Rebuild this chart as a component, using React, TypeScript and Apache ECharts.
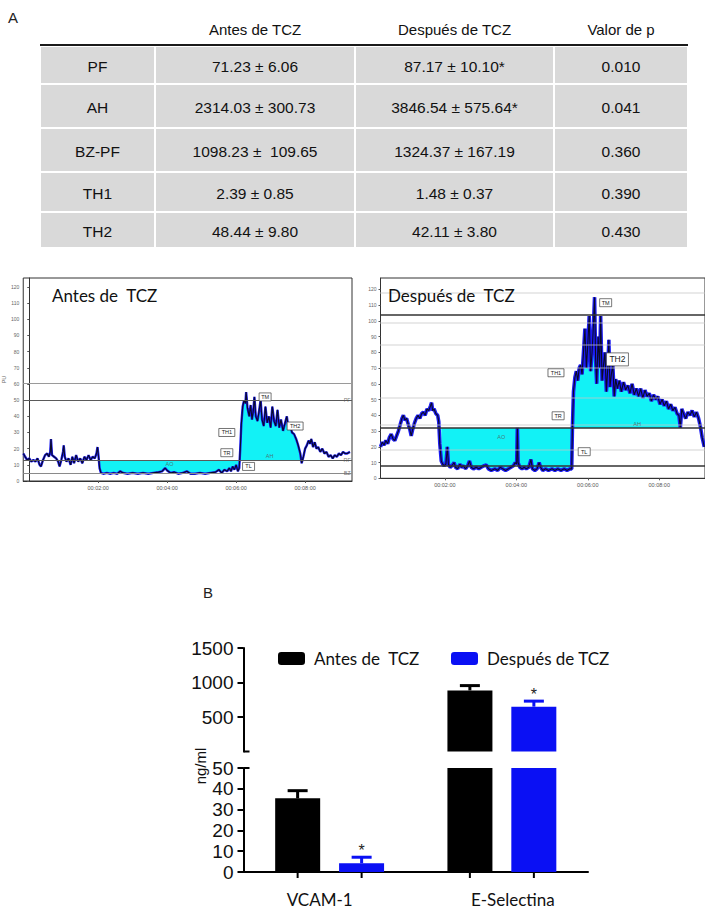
import React, { useEffect, useRef } from 'react';
import * as echarts from 'echarts';

// ---------------- A: table ----------------
const tableHeaders = ['Antes de TCZ', 'Después de TCZ', 'Valor de p'];
const tableParams = ['PF', 'AH', 'BZ-PF', 'TH1', 'TH2'];
const tableAntes = ['71.23 ± 6.06', '2314.03 ± 300.73', '1098.23 ±  109.65', '2.39 ± 0.85', '48.44 ± 9.80'];
const tableDespues = ['87.17 ± 10.10*', '3846.54 ± 575.64*', '1324.37 ± 167.19', '1.48 ± 0.37', '42.11 ± 3.80'];
const tablePValues = ['0.010', '0.041', '0.360', '0.390', '0.430'];

// ---------------- Laser Doppler traces: [minutes, PU] ----------------
const antesTrace: number[][] = [
  [-0.17, 17], [-0.12, 15], [-0.06, 13], [0, 14], [0.06, 12], [0.12, 13], [0.18, 12], [0.24, 14], [0.3, 10], [0.34, 9],
  [0.4, 13], [0.46, 16], [0.52, 17], [0.57, 15], [0.61, 18], [0.63, 26], [0.66, 16], [0.72, 15], [0.78, 14], [0.84, 12],
  [0.88, 9], [0.93, 13], [0.98, 18], [1.0, 22], [1.03, 15], [1.08, 12], [1.14, 14], [1.2, 10], [1.25, 15], [1.3, 11],
  [1.36, 16], [1.42, 12], [1.48, 14], [1.54, 11], [1.6, 15], [1.66, 13], [1.72, 16], [1.78, 13], [1.84, 15], [1.9, 14],
  [1.95, 17], [1.98, 21], [2.01, 15], [2.04, 8], [2.08, 5], [2.15, 4.5], [2.25, 5], [2.35, 4.5], [2.45, 5], [2.55, 4.5],
  [2.64, 6], [2.72, 5], [2.85, 4.5], [3.0, 5], [3.15, 4.5], [3.3, 5], [3.45, 4.5], [3.6, 5], [3.75, 5.5], [3.85, 6],
  [3.94, 8], [4.0, 6.5], [4.1, 5], [4.2, 5.5], [4.32, 4.5], [4.45, 5], [4.57, 6], [4.68, 4.5], [4.8, 4.5], [4.95, 5],
  [5.1, 4.5], [5.25, 5], [5.4, 5.5], [5.5, 7], [5.58, 5], [5.66, 7], [5.74, 6], [5.8, 8], [5.85, 6], [5.9, 9],
  [5.95, 7], [6.0, 10], [6.05, 6], [6.09, 8], [6.12, 20], [6.15, 35], [6.19, 46], [6.23, 50], [6.27, 48], [6.29, 55],
  [6.33, 45], [6.38, 40], [6.42, 47], [6.46, 38], [6.5, 44], [6.53, 52], [6.57, 40], [6.62, 37], [6.67, 44], [6.71, 50],
  [6.75, 38], [6.8, 34], [6.85, 46], [6.9, 36], [6.95, 40], [7.0, 33], [7.05, 46], [7.1, 37], [7.15, 34], [7.2, 44],
  [7.25, 33], [7.3, 38], [7.36, 31], [7.42, 36], [7.47, 40], [7.52, 32], [7.57, 34], [7.62, 30], [7.68, 29], [7.74, 26],
  [7.8, 22], [7.86, 17], [7.9, 11], [7.95, 15], [8.0, 20], [8.05, 22], [8.1, 25], [8.14, 23], [8.18, 26], [8.23, 21],
  [8.28, 24], [8.33, 20], [8.38, 21], [8.44, 18], [8.5, 20], [8.56, 17], [8.62, 18], [8.68, 15], [8.74, 16], [8.8, 14],
  [8.86, 16], [8.92, 15], [8.98, 17], [9.04, 16], [9.1, 18], [9.16, 17], [9.22, 17], [9.3, 18]
];
const despuesTrace: number[][] = [
  [0.2, 20], [0.25, 23], [0.3, 21], [0.35, 24], [0.4, 22], [0.45, 26], [0.5, 28], [0.55, 25], [0.6, 24], [0.65, 27],
  [0.7, 30], [0.75, 34], [0.8, 38], [0.84, 40], [0.88, 37], [0.93, 38], [0.98, 34], [1.02, 31], [1.06, 27], [1.1, 31],
  [1.15, 35], [1.2, 38], [1.25, 40], [1.3, 38], [1.35, 41], [1.4, 42], [1.45, 40], [1.5, 44], [1.55, 43], [1.6, 46],
  [1.63, 48], [1.66, 43], [1.7, 44], [1.75, 41], [1.8, 40], [1.83, 36], [1.86, 22], [1.9, 11], [1.94, 9], [1.98, 8],
  [2.03, 9], [2.07, 20], [2.1, 9], [2.15, 7], [2.2, 8], [2.26, 10], [2.3, 7], [2.36, 6], [2.42, 9], [2.47, 7],
  [2.52, 8], [2.58, 6], [2.64, 8], [2.69, 11], [2.74, 7], [2.8, 6], [2.88, 7], [2.95, 6], [3.02, 7], [3.1, 8],
  [3.16, 8.5], [3.22, 6], [3.3, 5], [3.4, 6], [3.48, 5], [3.55, 7], [3.62, 6], [3.7, 5], [3.78, 6], [3.85, 7],
  [3.92, 8], [3.97, 10], [4.01, 9], [4.03, 32], [4.05, 10], [4.1, 7], [4.16, 6], [4.22, 7], [4.28, 6], [4.35, 7],
  [4.41, 12], [4.45, 6], [4.52, 5], [4.58, 6], [4.64, 10], [4.68, 7], [4.74, 5], [4.82, 6], [4.9, 5], [5.0, 6],
  [5.08, 5], [5.16, 6], [5.25, 5], [5.34, 6], [5.42, 5], [5.5, 6], [5.55, 6], [5.57, 32], [5.6, 55], [5.64, 64],
  [5.68, 68], [5.72, 62], [5.76, 70], [5.8, 72], [5.84, 66], [5.88, 80], [5.92, 95], [5.96, 70], [6.0, 85], [6.04, 103],
  [6.08, 68], [6.12, 80], [6.16, 98], [6.19, 115], [6.22, 75], [6.25, 60], [6.29, 90], [6.33, 70], [6.36, 103], [6.4, 62],
  [6.44, 72], [6.48, 80], [6.52, 55], [6.56, 70], [6.59, 88], [6.62, 58], [6.66, 66], [6.7, 72], [6.74, 52], [6.78, 63],
  [6.83, 57], [6.88, 62], [6.94, 55], [7.0, 61], [7.06, 56], [7.12, 59], [7.18, 54], [7.24, 60], [7.3, 53], [7.36, 57],
  [7.42, 52], [7.48, 57], [7.54, 51], [7.6, 56], [7.66, 52], [7.72, 54], [7.78, 49], [7.84, 53], [7.9, 50], [7.96, 52],
  [8.02, 47], [8.08, 50], [8.14, 46], [8.2, 49], [8.26, 44], [8.32, 47], [8.38, 43], [8.44, 45], [8.5, 41], [8.55, 40],
  [8.59, 32], [8.63, 44], [8.68, 41], [8.74, 38], [8.8, 42], [8.86, 40], [8.92, 43], [8.98, 39], [9.04, 42], [9.1, 38],
  [9.15, 33], [9.2, 26], [9.26, 20]
];
const antesBaseline = 13;
const despuesBaseline = 32;
const antesFillRange = [2.04, 7.9];
const despuesFillRange = [1.9, 8.59];
const antesRefLines = [60.5, 50, 13, 5];
const despuesRefLines = [104, 32, 8];
const despuesDottedGrid = [118, 99, 85, 70, 51, 34, 18];
const timeTicks = [2, 4, 6, 8];
const puTicks = [0, 10, 20, 30, 40, 50, 60, 70, 80, 90, 100, 110, 120];
const antesTags = [
  { name: 'TM', t: 6.84, v: 52 }, { name: 'TH1', t: 5.73, v: 30 }, { name: 'TR', t: 5.73, v: 17.5 },
  { name: 'TL', t: 6.36, v: 9 }, { name: 'TH2', t: 7.71, v: 34 }
];
const antesMarks = [
  { name: 'AO', t: 4.07, v: 10.5 }, { name: 'AH', t: 6.97, v: 15.5 },
  { name: 'PF', t: 9.22, v: 50 }, { name: 'RF', t: 9.22, v: 13 }, { name: 'BZ', t: 9.22, v: 5 }
];
const despuesTags = [
  { name: 'TM', t: 6.5, v: 111.5 }, { name: 'TH1', t: 5.11, v: 67 }, { name: 'TR', t: 5.17, v: 39.7 },
  { name: 'TL', t: 5.9, v: 16.9 }
];
const despuesBigTags = [{ name: 'TH2', t: 6.83, v: 75.5 }];
const despuesMarks = [{ name: 'AO', t: 3.58, v: 26.4 }, { name: 'AH', t: 7.38, v: 34.5 }];

// ---------------- B: bars (ng/ml) ----------------
const barCategories = ['VCAM-1', 'E-Selectina'];
const antesMean = [35.4, 885];
const antesSem = [3.7, 70];
const despuesMean = [4.2, 650];
const despuesSem = [2.9, 80];
const despuesSignificant = [1, 1];
const axisBreak = 50;
const seriesNames = ['Antes de  TCZ', 'Después de TCZ'];

// ---------------- layout / style ----------------
const BLUE = '#0a10f4';
const CYAN = '#12f2f6';
const SANS = 'Liberation Sans';
const CAL = 'Lato';
const colX = [40, 155, 355, 554, 688];
const rowY = [46, 84, 128, 172, 212, 248];
const HEADER_Y = 29;
const BAR_LEFT = 243.5;
const BAR_W = 344.5;
const UP_TOP = 648, UP_H = 103.5;
const LO_TOP = 768, LO_H = 104;
const BAR_OFFSET = 32;

function buildTable() {
  const els: any[] = [];
  tableHeaders.forEach((h, i) => {
    els.push({ type: 'text', x: (colX[i + 1] + colX[i + 2]) / 2, y: HEADER_Y,
      style: { text: h, fill: '#111', fontSize: 15, fontFamily: SANS, align: 'center', verticalAlign: 'middle' } });
  });
  const cols = [tableParams, tableAntes, tableDespues, tablePValues];
  for (let r = 0; r < tableParams.length; r++) {
    for (let c = 0; c < 4; c++) {
      els.push({ type: 'rect', shape: { x: colX[c] + 1, y: rowY[r] + 1, width: colX[c + 1] - colX[c] - 2, height: rowY[r + 1] - rowY[r] - 2 },
        style: { fill: '#d9d9d9' } });
      els.push({ type: 'text', x: (colX[c] + colX[c + 1]) / 2, y: (rowY[r] + rowY[r + 1]) / 2 + 1,
        style: { text: cols[c][r], fill: '#111', fontSize: 15.5, fontFamily: SANS, align: 'center', verticalAlign: 'middle' } });
    }
  }
  els.push({ type: 'rect', shape: { x: colX[0], y: rowY[0] - 2, width: colX[4] - colX[0], height: 2 }, style: { fill: '#1a1a1a' } });
  return els;
}

function traceAxes(gridIndex: number, min: number, max: number, ymax: number, showName: boolean) {
  const x = {
    type: 'value', gridIndex, min, max,
    axisLine: { show: true, onZero: false, lineStyle: { color: '#333', width: 1 } },
    axisTick: { show: true, customValues: timeTicks, length: 2, lineStyle: { color: '#555' } },
    axisLabel: { customValues: timeTicks, fontSize: 5.5, color: '#555', margin: 4, fontFamily: SANS,
      formatter: (v: number) => '00:0' + v + ':00' },
    splitLine: { show: false }
  };
  const y = {
    type: 'value', gridIndex, min: 0, max: ymax,
    name: showName ? 'PU' : '', nameLocation: 'middle', nameGap: 13, nameRotate: 90,
    nameTextStyle: { fontSize: 5.5, color: '#666', fontFamily: SANS },
    axisLine: { show: true, lineStyle: { color: '#333', width: 1 } },
    axisTick: { show: true, customValues: puTicks, length: 2, lineStyle: { color: '#555' } },
    axisLabel: { customValues: puTicks, fontSize: 5, color: '#666', margin: 4, fontFamily: SANS },
    splitLine: { show: false }
  };
  return { x, y };
}

function traceSeries(idx: number, trace: number[][], baseline: number, range: number[], refLines: any[], blueW: number) {
  return [
    {
      type: 'line', xAxisIndex: idx, yAxisIndex: idx, z: 2, silent: true, symbol: 'none',
      data: trace.filter((p) => p[0] >= range[0] && p[0] <= range[1]),
      lineStyle: { width: 0 },
      areaStyle: { color: CYAN, opacity: 1, origin: baseline },
      markLine: { silent: true, symbol: ['none', 'none'], label: { show: false }, data: refLines }
    },
    { type: 'line', xAxisIndex: idx, yAxisIndex: idx, z: 3, silent: true, symbol: 'none', data: trace,
      lineStyle: { color: '#1c1cf2', width: blueW } },
    { type: 'line', xAxisIndex: idx, yAxisIndex: idx, z: 4, silent: true, symbol: 'none', data: trace,
      lineStyle: { color: '#0a0a28', width: 1.1 } }
  ];
}

function tagSeries(idx: number, tags: any[], fontSize: number, boxH: number, perChar: number) {
  return {
    type: 'scatter', xAxisIndex: idx, yAxisIndex: idx, z: 6, silent: true, symbol: 'rect',
    data: tags.map((t) => ({ name: t.name, value: [t.t, t.v], symbolSize: [t.name.length * perChar + 4, boxH] })),
    itemStyle: { color: '#fff', borderColor: '#444', borderWidth: 0.7, opacity: 1 },
    label: { show: true, position: 'inside', formatter: '{b}', fontSize, color: '#222', fontFamily: SANS }
  };
}

function markSeries(idx: number, marks: any[]) {
  return {
    type: 'scatter', xAxisIndex: idx, yAxisIndex: idx, z: 6, silent: true, symbolSize: 0,
    data: marks.map((t) => ({ name: t.name, value: [t.t, t.v] })),
    label: { show: true, position: 'inside', formatter: '{b}', fontSize: 5.5, color: '#555', fontFamily: SANS }
  };
}

function errorRenderer(isUpper: boolean) {
  return (params: any, api: any) => {
    const i = api.value(0);
    const m = api.value(1);
    const e = api.value(2);
    const side = api.value(3);
    const star = api.value(4);
    const color = side < 0 ? '#000' : BLUE;
    const children: any[] = [];
    const c0 = api.coord([i, 0]);
    const x = c0[0] + side * BAR_OFFSET;
    if (!isUpper) {
      children.push({ type: 'line', shape: { x1: x, y1: c0[1], x2: x, y2: c0[1] + 6 }, style: { stroke: '#000', lineWidth: 2 } });
    }
    const inRange = isUpper ? m >= axisBreak : m + e <= axisBreak;
    if (inRange) {
      const pb = api.coord([i, m]);
      const pt = api.coord([i, m + e]);
      children.push({ type: 'line', shape: { x1: x, y1: pb[1], x2: x, y2: pt[1] }, style: { stroke: color, lineWidth: 3 } });
      children.push({ type: 'line', shape: { x1: x - 10, y1: pt[1], x2: x + 10, y2: pt[1] }, style: { stroke: color, lineWidth: 3 } });
      if (star) {
        children.push({ type: 'text', x, y: pt[1] - 7,
          style: { text: '*', fill: '#222', fontSize: 16, fontFamily: SANS, align: 'center', verticalAlign: 'middle' } });
      }
    }
    return { type: 'group', children };
  };
}

function buildOption() {
  const left = traceAxes(0, -0.174, 9.36, 203 / 1.617, true);
  const right = traceAxes(1, 0.2, 9.28, 200.3 / 1.575, false);
  const antesRefStyle = [
    { color: '#9a9a9a', width: 1 }, { color: '#5a5a5a', width: 1 }, { color: '#5a5a5a', width: 1 }, { color: '#8a8a8a', width: 1 }
  ];
  const antesRef = antesRefLines.map((v, i) => ({ yAxis: v, lineStyle: { ...antesRefStyle[i], type: 'solid' } }));
  const despuesRef = [
    ...despuesDottedGrid.map((v) => ({ yAxis: v, lineStyle: { color: '#c4c4c4', width: 1.5, type: [1, 1] } })),
    ...despuesRefLines.map((v) => ({ yAxis: v, lineStyle: { color: '#333', width: 1.5, type: 'solid' } }))
  ];
  const errData = barCategories.flatMap((c, i) => [
    [i, antesMean[i], antesSem[i], -1, 0],
    [i, despuesMean[i], despuesSem[i], 1, despuesSignificant[i]]
  ]);
  const barYAxisLine = { show: true, lineStyle: { color: '#000', width: 2 } };
  const barYTick = { show: true, length: 6, lineStyle: { color: '#000', width: 2 } };
  const barYLabel = { fontSize: 19, color: '#111', fontFamily: SANS, margin: 10, formatter: (v: number) => String(v) };
  const legendBase = { itemWidth: 27, itemHeight: 13, icon: 'roundRect', selectedMode: false,
    textStyle: { fontFamily: CAL, fontSize: 17, color: '#111', padding: [0, 0, 0, 4] } };

  return {
    animation: false,
    backgroundColor: '#fff',
    title: [
      { text: 'A', left: 8, top: 10, padding: 0, textStyle: { fontFamily: SANS, fontSize: 15, fontWeight: 'normal', color: '#222' } },
      { text: 'B', left: 203, top: 585, padding: 0, textStyle: { fontFamily: SANS, fontSize: 15, fontWeight: 'normal', color: '#222' } },
      { text: 'Antes de  TCZ', left: 52, top: 287, padding: 0, textStyle: { fontFamily: CAL, fontSize: 17, fontWeight: 'normal', color: '#111' } },
      { text: 'Después de  TCZ', left: 388, top: 287, padding: 0, textStyle: { fontFamily: CAL, fontSize: 17, fontWeight: 'normal', color: '#111' } }
    ],
    legend: [
      { ...legendBase, left: 273, top: 645, data: [seriesNames[0]] },
      { ...legendBase, left: 446, top: 645, data: [seriesNames[1]] }
    ],
    grid: [
      { left: 23, top: 278, width: 329, height: 203, show: true, borderColor: '#333', borderWidth: 1, backgroundColor: 'transparent' },
      { left: 380.5, top: 278, width: 326, height: 200.3, show: true, borderColor: '#333', borderWidth: 1, backgroundColor: 'transparent' },
      { left: BAR_LEFT, top: UP_TOP, width: BAR_W, height: UP_H },
      { left: BAR_LEFT, top: LO_TOP, width: BAR_W, height: LO_H }
    ],
    xAxis: [
      left.x, right.x,
      { type: 'category', gridIndex: 2, data: barCategories, show: false },
      { type: 'category', gridIndex: 3, data: barCategories,
        axisLine: { lineStyle: { color: '#000', width: 2 } }, axisTick: { show: false },
        axisLabel: { fontFamily: CAL, fontSize: 17, color: '#111', margin: 19,
          formatter: (v: string, i: number) => (i === 0 ? '{l|' + v + '}' : '{r|' + v + '}'),
          rich: {
            l: { fontFamily: CAL, fontSize: 17, color: '#111', padding: [0, 20, 0, 0] },
            r: { fontFamily: CAL, fontSize: 17, color: '#111', padding: [0, 0, 0, 22] }
          } } }
    ],
    yAxis: [
      left.y, right.y,
      { type: 'value', gridIndex: 2, min: 0, max: 1500, interval: 500, axisLine: barYAxisLine, axisTick: barYTick,
        axisLabel: { ...barYLabel, showMinLabel: false }, splitLine: { show: false } },
      { type: 'value', gridIndex: 3, min: 0, max: 50, interval: 10, axisLine: barYAxisLine, axisTick: barYTick,
        axisLabel: barYLabel, splitLine: { show: false } }
    ],
    series: [
      ...traceSeries(0, antesTrace, antesBaseline, antesFillRange, antesRef, 2.4),
      ...traceSeries(1, despuesTrace, despuesBaseline, despuesFillRange, despuesRef, 3.6),
      tagSeries(0, antesTags, 5.5, 8, 4),
      markSeries(0, antesMarks),
      tagSeries(1, despuesTags, 5.5, 8, 4),
      tagSeries(1, despuesBigTags, 8.5, 13, 6),
      markSeries(1, despuesMarks),
      { name: seriesNames[0], type: 'bar', xAxisIndex: 2, yAxisIndex: 2, barWidth: 45, barGap: '42%',
        data: antesMean.map((v) => (v >= axisBreak ? v : '-')), itemStyle: { color: '#000' } },
      { name: seriesNames[1], type: 'bar', xAxisIndex: 2, yAxisIndex: 2, barWidth: 45, barGap: '42%',
        data: despuesMean.map((v) => (v >= axisBreak ? v : '-')), itemStyle: { color: BLUE } },
      { name: seriesNames[0], type: 'bar', xAxisIndex: 3, yAxisIndex: 3, barWidth: 45, barGap: '42%',
        data: antesMean, itemStyle: { color: '#000' } },
      { name: seriesNames[1], type: 'bar', xAxisIndex: 3, yAxisIndex: 3, barWidth: 45, barGap: '42%',
        data: despuesMean, itemStyle: { color: BLUE } },
      { type: 'custom', xAxisIndex: 2, yAxisIndex: 2, z: 5, silent: true, data: errData, renderItem: errorRenderer(true) },
      { type: 'custom', xAxisIndex: 3, yAxisIndex: 3, z: 5, silent: true, data: errData, renderItem: errorRenderer(false) }
    ],
    graphic: {
      elements: [
        ...buildTable(),
        { type: 'line', shape: { x1: BAR_LEFT, y1: UP_TOP + UP_H, x2: BAR_LEFT + 6, y2: UP_TOP + UP_H }, style: { stroke: '#000', lineWidth: 2 } },
        { type: 'line', shape: { x1: BAR_LEFT, y1: LO_TOP, x2: BAR_LEFT + 6, y2: LO_TOP }, style: { stroke: '#000', lineWidth: 2 } },
        { type: 'text', x: 200, y: 766, rotation: Math.PI / 2,
          style: { text: 'ng/ml', fill: '#111', fontSize: 15, fontFamily: SANS, align: 'center', verticalAlign: 'middle' } }
      ]
    }
  };
}

export default function App() {
  const ref = useRef<HTMLDivElement>(null);
  useEffect(() => {
    document.body.style.margin = '0';
    const chart = echarts.init(ref.current as HTMLDivElement, null, { renderer: 'svg' });
    chart.setOption(buildOption() as any);
    return () => chart.dispose();
  }, []);
  return <div ref={ref} style={{ position: 'absolute', left: 0, top: 0, width: 705, height: 916, background: '#fff' }} />;
}
